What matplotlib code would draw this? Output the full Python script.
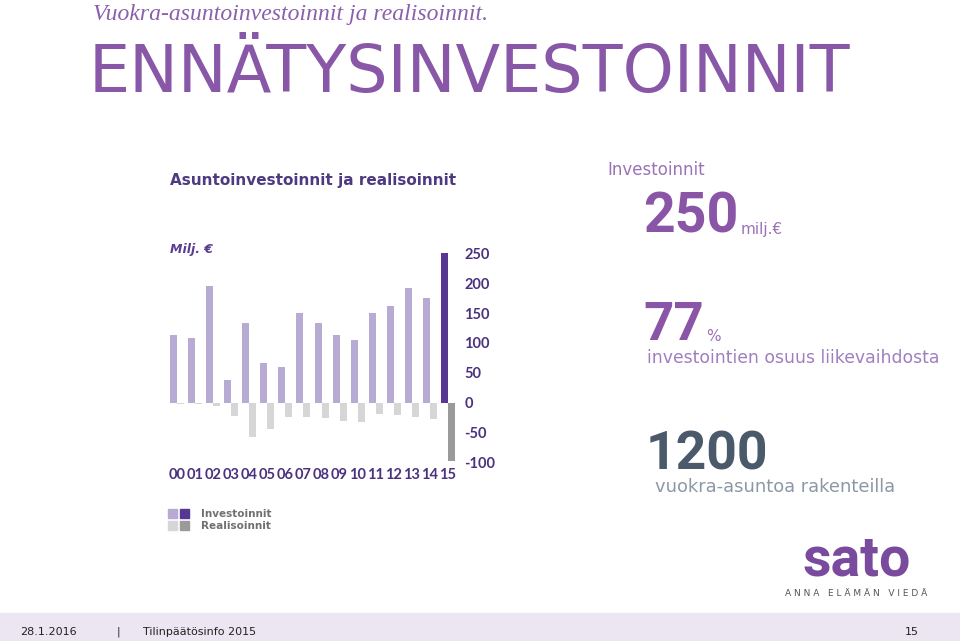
"""Recreate the SATO slide: rental-housing investments and realisations 2000-2015."""
import matplotlib
matplotlib.use("Agg")
import matplotlib.pyplot as plt
from matplotlib.patches import Rectangle

plt.rcParams["axes.unicode_minus"] = False

YEARS = ["00", "01", "02", "03", "04", "05", "06", "07",
         "08", "09", "10", "11", "12", "13", "14", "15"]
INVESTMENTS = [114, 108, 195, 38, 134, 66, 60, 150,
               134, 113, 105, 150, 161, 192, 175, 250]
REALISATIONS = [-2, -2, -5, -22, -58, -44, -24, -24,
                -25, -30, -33, -19, -21, -24, -27, -97]
Y_TICKS = [-100, -50, 0, 50, 100, 150, 200, 250]

W, H = 960, 641

LIGHT_PURPLE = "#b7aad3"
DARK_PURPLE = "#563792"
LIGHT_GREY = "#d6d6d6"
DARK_GREY = "#9a9a9a"
AXIS_TXT = "#4b3180"
TITLE_PURPLE = "#8857a8"


def fx(px):
    return px / W


def fy(py):
    return 1 - py / H


fig = plt.figure(figsize=(9.6, 6.41), dpi=100)
fig.patch.set_facecolor("white")

# --- headline -------------------------------------------------------------
fig.text(fx(93), fy(20), "Vuokra-asuntoinvestoinnit ja realisoinnit.",
         family="Liberation Serif", style="italic", fontsize=17,
         color="#8a5fac", va="baseline", ha="left")
fig.text(fx(89), fy(92), "ENNÄTYSINVESTOINNIT", family="DejaVu Sans",
         fontsize=47, color=TITLE_PURPLE, va="baseline", ha="left")

# --- chart ----------------------------------------------------------------
px_per_unit = 18.07
ax_left, ax_right = 165, 460
ax_top, ax_bot = 253.3, 462.5
ax = fig.add_axes([fx(ax_left), fy(ax_bot), (ax_right - ax_left) / W,
                   (ax_bot - ax_top) / H])
x0 = -0.662
ax.set_xlim(x0, x0 + (ax_right - ax_left) / px_per_unit)
ax.set_ylim(-100, 250)

bw = 7 / px_per_unit
xs = list(range(len(YEARS)))
inv_colors = [LIGHT_PURPLE] * (len(YEARS) - 1) + [DARK_PURPLE]
rea_colors = [LIGHT_GREY] * (len(YEARS) - 1) + [DARK_GREY]
ax.bar([x - bw / 2 for x in xs], INVESTMENTS, width=bw, color=inv_colors,
       clip_on=False)
ax.bar([x + bw / 2 for x in xs], REALISATIONS, width=bw, color=rea_colors,
       clip_on=False)

ax.set_xticks(xs)
ax.set_xticklabels(YEARS)
ax.set_yticks(Y_TICKS)
ax.yaxis.tick_right()
ax.tick_params(length=0, colors=AXIS_TXT, labelsize=10.5)
ax.tick_params(axis="x", pad=4)
ax.tick_params(axis="y", pad=3)
for lab in ax.get_xticklabels() + ax.get_yticklabels():
    lab.set_family("Lato")
    lab.set_fontweight("bold")
    lab.set_color(AXIS_TXT)
for s in ax.spines.values():
    s.set_visible(False)
ax.patch.set_visible(False)

fig.text(fx(170), fy(181), "Asuntoinvestoinnit ja realisoinnit",
         fontsize=11, fontweight="bold", color="#4e3a80", va="center")
fig.text(fx(170), fy(250), "Milj. €", fontsize=9, fontweight="bold",
         style="italic", color="#5a3d90", va="center")

# legend
for (x, y, c) in [(168, 509, LIGHT_PURPLE), (180, 509, DARK_PURPLE),
                  (168, 521, LIGHT_GREY), (180, 521, DARK_GREY)]:
    fig.add_artist(Rectangle((fx(x), fy(y + 9)), 9 / W, 9 / H,
                             transform=fig.transFigure, color=c))
fig.text(fx(201), fy(514), "Investoinnit", fontsize=7.5, fontweight="bold",
         color="#707070", va="center")
fig.text(fx(201), fy(526), "Realisoinnit", fontsize=7.5, fontweight="bold",
         color="#707070", va="center")

# --- key figures ----------------------------------------------------------
fig.text(fx(607), fy(170), "Investoinnit", fontsize=12, color="#9b72b8",
         va="center")
fig.text(fx(643), fy(233), "250", family="Roboto", fontweight="bold",
         fontsize=40, color="#8a55a6", va="baseline")
fig.text(fx(741), fy(234), "milj.€", fontsize=11, color="#9b72b8",
         va="baseline")
fig.text(fx(643), fy(340), "77", family="Roboto", fontweight="bold",
         fontsize=38, color="#8a55a6", va="baseline")
fig.text(fx(706), fy(341), "%", fontsize=11, color="#9b72b8", va="baseline")
fig.text(fx(647), fy(358), "investointien osuus liikevaihdosta",
         fontsize=12.4, color="#a07fc0", va="center")
fig.text(fx(646), fy(470), "1200", family="Roboto", fontweight="bold",
         fontsize=38.5, color="#4a5a6b", va="baseline")
fig.text(fx(655), fy(487), "vuokra-asuntoa rakenteilla", fontsize=12.9,
         color="#8d98a5", va="center")

# --- logo -----------------------------------------------------------------
fig.text(fx(857), fy(576), "sato", family="Roboto", fontweight="bold",
         fontsize=40, color="#7a4a9e", ha="center", va="baseline")
fig.text(fx(856), fy(593), "A N N A   E L Ä M Ä N   V I E D Ä", fontsize=6.5,
         color="#555555", ha="center", va="center")

# --- footer ---------------------------------------------------------------
fig.add_artist(Rectangle((0, 0), 1, (H - 613) / H, transform=fig.transFigure,
                         color="#ece6f2", zorder=0))
fig.text(fx(20), fy(632), "28.1.2016", fontsize=8, color="#222222",
         va="center")
fig.text(fx(117), fy(632), "|", fontsize=8, color="#222222", va="center")
fig.text(fx(143), fy(632), "Tilinpäätösinfo 2015", fontsize=8,
         color="#222222", va="center")
fig.text(fx(905), fy(632), "15", fontsize=8, color="#222222", va="center")

fig.savefig("out.png", dpi=100)
